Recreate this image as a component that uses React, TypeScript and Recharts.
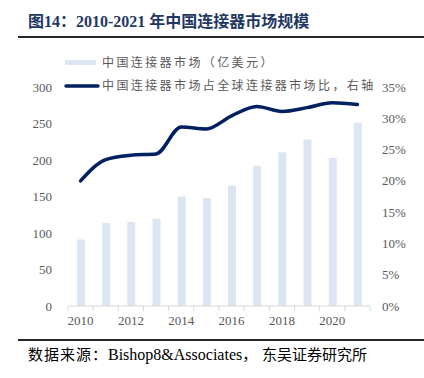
import { Bar, ComposedChart, Line, XAxis, YAxis } from "recharts";

const YEARS = ["2010", "2011", "2012", "2013", "2014", "2015", "2016", "2017", "2018", "2019", "2020", "2021"];
// 中国连接器市场（亿美元）
const MARKET = [91, 113.5, 115, 119.5, 150, 148, 165, 192, 210.5, 228, 203, 251];
// 占全球连接器市场比（%）
const SHARE = [20.0, 23.4, 24.1, 24.3, 28.6, 28.3, 30.4, 31.9, 31.1, 31.7, 32.5, 32.2];
const LEFT_TICKS = [0, 50, 100, 150, 200, 250, 300];
const RIGHT_TICKS = [0, 5, 10, 15, 20, 25, 30, 35];

const data = YEARS.map((year, i) => ({ year, market: MARKET[i], share: SHARE[i] }));

const W = 424;
const H = 378;
const LEFT_AXIS_W = 68;
const RIGHT_AXIS_W = 54;
const BAND = (W - LEFT_AXIS_W - RIGHT_AXIS_W) / YEARS.length;

const NAVY = "#002060";
const BAR_FILL = "#dce6f2";
const GRID = "#d9d9d9";
const LABEL = "#595959";
const SERIF = '"Liberation Serif", "Noto Sans CJK SC", serif';
const CJK = '"Noto Sans CJK SC", sans-serif';

function YearTick(props: any) {
  const { x, y, index, payload } = props;
  const half = BAND / 2;
  return (
    <g>
      <line x1={x - half} x2={x - half} y1={y} y2={y + 5} stroke={GRID} />
      {index === YEARS.length - 1 && (
        <line x1={x + half} x2={x + half} y1={y} y2={y + 5} stroke={GRID} />
      )}
      {index % 2 === 0 && (
        <text x={x} y={y + 19} textAnchor="middle" fill={LABEL} fontSize={13} fontFamily={SERIF}>
          {payload.value}
        </text>
      )}
    </g>
  );
}

export default function App() {
  return (
    <div style={{ position: "absolute", left: 0, top: 0, width: W, height: H, background: "#fff" }}>
      <ComposedChart
        width={W}
        height={H}
        data={data}
        margin={{ top: 87, right: 0, left: 0, bottom: 42 }}
      >
        <XAxis
          dataKey="year"
          xAxisId="x"
          height={30}
          interval={0}
          axisLine={{ stroke: GRID }}
          tickLine={false}
          tickSize={0}
          tickMargin={0}
          tick={<YearTick />}
        />
        <YAxis
          yAxisId="left"
          width={LEFT_AXIS_W}
          domain={[0, 300]}
          ticks={LEFT_TICKS}
          axisLine={false}
          tickLine={false}
          tickSize={0}
          tickMargin={16}
          tick={{ fill: LABEL, fontSize: 13, fontFamily: SERIF }}
        />
        <YAxis
          yAxisId="right"
          orientation="right"
          width={RIGHT_AXIS_W}
          domain={[0, 35]}
          ticks={RIGHT_TICKS}
          axisLine={false}
          tickLine={false}
          tickSize={0}
          tickMargin={12}
          tickFormatter={(v: number) => `${v}%`}
          tick={{ fill: LABEL, fontSize: 13, fontFamily: SERIF, textAnchor: "start" }}
        />
        <Bar
          xAxisId="x"
          yAxisId="left"
          dataKey="market"
          fill={BAR_FILL}
          barSize={8}
          isAnimationActive={false}
        />
        <Line
          xAxisId="x"
          yAxisId="right"
          type="monotone"
          dataKey="share"
          stroke={NAVY}
          strokeWidth={3.5}
          strokeLinecap="round"
          dot={false}
          activeDot={false}
          isAnimationActive={false}
        />
      </ComposedChart>

      <svg
        width={W}
        height={H}
        style={{ position: "absolute", left: 0, top: 0, pointerEvents: "none" }}
      >
        <text x={28} y={27} fill="#1f3864" fontSize={16} fontWeight="bold" fontFamily={SERIF}>
          图14：2010-2021 年中国连接器市场规模
        </text>
        <rect x={18} y={36} width={W - 18} height={2} fill="#262626" />

        <rect x={65} y={60} width={31} height={5} fill={BAR_FILL} />
        <text x={102} y={67} fill={LABEL} fontSize={12} letterSpacing={2.4} fontFamily={CJK}>
          中国连接器市场（亿美元）
        </text>
        <line x1={66} x2={98} y1={86} y2={86} stroke={NAVY} strokeWidth={3.5} strokeLinecap="round" />
        <text x={102} y={90} fill={LABEL} fontSize={12} letterSpacing={2.4} fontFamily={CJK}>
          中国连接器市场占全球连接器市场比，右轴
        </text>

        <rect x={18} y={339} width={W - 18} height={2} fill="#262626" />
        <text y={360} fill="#000" fontSize={15} fontFamily={SERIF}>
          <tspan x={28} letterSpacing={1}>数据来源：</tspan>
          <tspan x={108} fontSize={16}>Bishop8&amp;Associates</tspan>
          <tspan>，</tspan>
          <tspan x={262}>东吴证券研究所</tspan>
        </text>
      </svg>
    </div>
  );
}
